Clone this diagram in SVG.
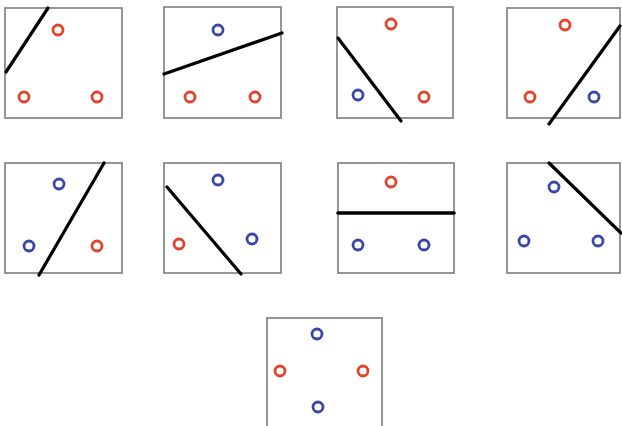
<svg xmlns="http://www.w3.org/2000/svg" width="622" height="426" viewBox="0 0 622 426">
<style>
.box{fill:#fff;stroke:#8a8a8a;stroke-width:1.8}
.r{fill:none;stroke:#e2432b;stroke-width:2.8}
.b{fill:none;stroke:#3b47a6;stroke-width:2.8}
.sep{stroke:#000;stroke-width:3.2;stroke-linecap:round}
</style>
<rect width="622" height="426" fill="#fff"/>
<g id="panel1">
<rect class="box" x="5" y="8" width="117" height="110"/>
<circle class="r" cx="58" cy="30" r="5"/><circle class="r" cx="24" cy="97" r="5"/><circle class="r" cx="97" cy="97" r="5"/>
</g>
<g id="panel2">
<rect class="box" x="164" y="7" width="117" height="111"/>
<circle class="b" cx="218" cy="30" r="5"/><circle class="r" cx="190" cy="97" r="5"/><circle class="r" cx="255" cy="97" r="5"/>
</g>
<g id="panel3">
<rect class="box" x="337" y="7" width="116" height="111"/>
<circle class="r" cx="391" cy="24" r="5"/><circle class="b" cx="358" cy="95" r="5"/><circle class="r" cx="424" cy="97" r="5"/>
</g>
<g id="panel4">
<rect class="box" x="507" y="8" width="113" height="110"/>
<circle class="r" cx="565" cy="25" r="5"/><circle class="r" cx="530" cy="97" r="5"/><circle class="b" cx="594" cy="97" r="5"/>
</g>
<g id="panel5">
<rect class="box" x="5" y="163" width="117" height="110"/>
<circle class="b" cx="59" cy="184" r="5"/><circle class="b" cx="29" cy="246" r="5"/><circle class="r" cx="97" cy="246" r="5"/>
</g>
<g id="panel6">
<rect class="box" x="164" y="163" width="117" height="110"/>
<circle class="b" cx="218" cy="180" r="5"/><circle class="r" cx="179" cy="244" r="5"/><circle class="b" cx="252" cy="239" r="5"/>
</g>
<g id="panel7">
<rect class="box" x="338" y="163" width="116" height="110"/>
<circle class="r" cx="391" cy="182" r="5"/><circle class="b" cx="358" cy="245" r="5"/><circle class="b" cx="424" cy="245" r="5"/>
</g>
<g id="panel8">
<rect class="box" x="507" y="163" width="113" height="110"/>
<circle class="b" cx="554" cy="187" r="5"/><circle class="b" cx="524" cy="241" r="5"/><circle class="b" cx="598" cy="241" r="5"/>
</g>
<g id="panel9">
<rect class="box" x="267" y="318" width="115" height="120"/>
<circle class="b" cx="317" cy="334" r="5"/><circle class="r" cx="280" cy="371" r="5"/><circle class="r" cx="363" cy="371" r="5"/><circle class="b" cx="318" cy="407" r="5"/>
</g>
<g id="connectors">
<line class="sep" x1="48" y1="8" x2="6" y2="72"/>
<line class="sep" x1="164" y1="74" x2="282" y2="33"/>
<line class="sep" x1="338" y1="38" x2="401" y2="121"/>
<line class="sep" x1="620" y1="26" x2="549" y2="124"/>
<line class="sep" x1="104" y1="163" x2="39" y2="275"/>
<line class="sep" x1="167" y1="187" x2="241" y2="274"/>
<line class="sep" x1="338" y1="213" x2="454" y2="213" style="stroke-width:3.6"/>
<line class="sep" x1="549" y1="163" x2="621" y2="233"/>
</g>
</svg>
